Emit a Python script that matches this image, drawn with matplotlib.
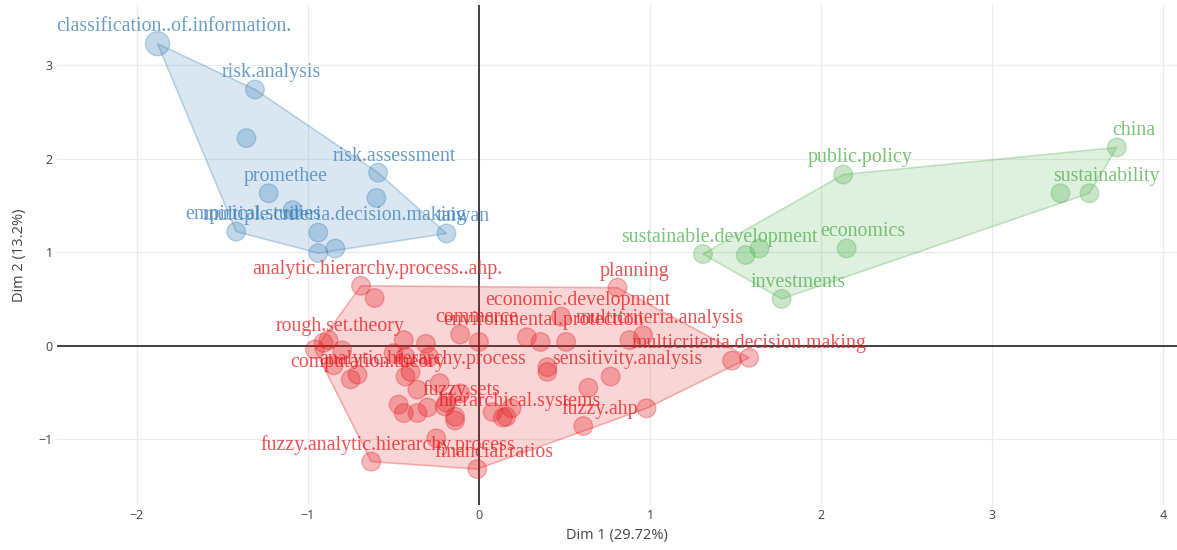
import numpy as np
import matplotlib
matplotlib.use('Agg')
import matplotlib.pyplot as plt
from matplotlib.patches import Polygon

# cluster 1 (blue)
blue_labels = ['classification..of.information.', 'risk.analysis', '', 'promethee', '',
               'empirical.studies', 'risk.assessment', '', 'multiple.criteria.decision.making',
               '', '', 'taiwan']
blue_x = [-1.88, -1.31, -1.36, -1.23, -1.09, -1.42, -0.59, -0.60, -0.94, -0.94, -0.84, -0.19]
blue_y = [3.23, 2.74, 2.22, 1.63, 1.45, 1.22, 1.85, 1.58, 1.21, 0.99, 1.04, 1.20]

# cluster 2 (red)
red_labels = ['analytic.hierarchy.process..ahp.', 'planning', 'economic.development', 'commerce',
              'environmental.protection', 'multicriteria.analysis', 'multicriteria.decision.making',
              'sensitivity.analysis', 'fuzzy.ahp', 'hierarchical.systems', 'fuzzy.sets',
              'analytic.hierarchy.process', 'computation.theory', 'rough.set.theory',
              'fuzzy.analytic.hierarchy.process', 'financial.ratios'] + [''] * 35
red_x = [-0.69, 0.81, 0.48, -0.11, 0.28, 0.96, 1.48, 0.77, 0.61, 0.14, -0.20, -0.43, -0.75, -0.91,
         -0.63, -0.01,
         -0.61, -0.96, -0.88, -0.80, -0.85, -0.71, -0.44, -0.31, -0.43, -0.29, -0.40, -0.50, -0.36,
         -0.23, -0.47, -0.44, -0.36, -0.30, -0.14, -0.14, -0.19, -0.11, -0.25, 0.00, 0.08, 0.16,
         0.19, 0.36, 0.51, 0.88, 0.40, 0.40, 0.64, 0.98, 1.58]
red_y = [0.64, 0.62, 0.31, 0.12, 0.09, 0.11, -0.16, -0.33, -0.86, -0.77, -0.65, -0.33, -0.36, 0.03,
         -1.24, -1.32,
         0.51, -0.04, 0.06, -0.05, -0.21, -0.31, 0.06, 0.02, -0.12, -0.12, -0.28, -0.08, -0.47,
         -0.40, -0.63, -0.72, -0.72, -0.66, -0.76, -0.80, -0.61, -0.51, -0.99, 0.04, -0.71, -0.76,
         -0.67, 0.04, 0.04, 0.06, -0.28, -0.23, -0.45, -0.67, -0.13]

# cluster 3 (green)
green_labels = ['china', 'public.policy', 'sustainability', '', 'sustainable.development', '', '',
                'economics', 'investments']
green_x = [3.73, 2.13, 3.57, 3.40, 1.31, 1.56, 1.64, 2.15, 1.77]
green_y = [2.12, 1.83, 1.63, 1.63, 0.98, 0.97, 1.04, 1.04, 0.50]

xlabel = 'Dim 1 (29.72%)'
ylabel = 'Dim 2 (13.2%)'


def hull(pts):
    # monotone chain convex hull
    pts = sorted(set(pts))
    def cross(o, a, b):
        return (a[0] - o[0]) * (b[1] - o[1]) - (a[1] - o[1]) * (b[0] - o[0])
    lower = []
    for p in pts:
        while len(lower) >= 2 and cross(lower[-2], lower[-1], p) <= 0:
            lower.pop()
        lower.append(p)
    upper = []
    for p in reversed(pts):
        while len(upper) >= 2 and cross(upper[-2], upper[-1], p) <= 0:
            upper.pop()
        upper.append(p)
    return lower[:-1] + upper[:-1]


fig = plt.figure(figsize=(11.77, 5.5), dpi=100)
ax = fig.add_axes([0.0484, 0.0818, 0.9516, 0.9092])

clusters = [
    (blue_x, blue_y, blue_labels, '#377eb8'),
    (red_x, red_y, red_labels, '#e41a1c'),
    (green_x, green_y, green_labels, '#4daf4a'),
]

for xs, ys, labs, col in clusters:
    h = hull(list(zip(xs, ys)))
    ax.add_patch(Polygon(h, closed=True, facecolor=col, alpha=0.18, edgecolor='none', zorder=2))
    ax.add_patch(Polygon(h, closed=True, fill=False, edgecolor=col, alpha=0.3, lw=1.2, zorder=2))
    sizes = [300 if t == 'classification..of.information.' else 180 for t in labs]
    ax.scatter(xs, ys, s=sizes, color=col, alpha=0.3, edgecolors=col, linewidths=1.0, zorder=3)
    for x, y, t in zip(xs, ys, labs):
        if t:
            ax.annotate(t, (x, y), xytext=(12, 12), textcoords='offset points',
                        ha='center', va='center', fontsize=14.3, color=col, alpha=0.75,
                        family='Liberation Serif', zorder=4)

ax.axhline(0, color='#222222', lw=1.2, zorder=1)
ax.axvline(0, color='#222222', lw=1.2, zorder=1)

ax.set_xlim(-2.468, 4.082)
ax.set_ylim(-1.704, 3.644)
ax.set_xticks([-2, -1, 0, 1, 2, 3, 4])
ax.set_yticks([-1, 0, 1, 2, 3])
ax.grid(True, color='#ebebeb', lw=0.9, zorder=0)
ax.set_axisbelow(True)
for s in ax.spines.values():
    s.set_visible(False)
ax.tick_params(length=0, labelsize=9, labelcolor='#444444', pad=3)
for lab in ax.get_xticklabels() + ax.get_yticklabels():
    lab.set_family('Open Sans')
ax.set_xlabel(xlabel, fontsize=10.5, color='#444444', family='Open Sans', labelpad=4)
ax.set_ylabel(ylabel, fontsize=10.5, color='#444444', family='Open Sans', labelpad=8)

fig.savefig('out.png', dpi=100)
